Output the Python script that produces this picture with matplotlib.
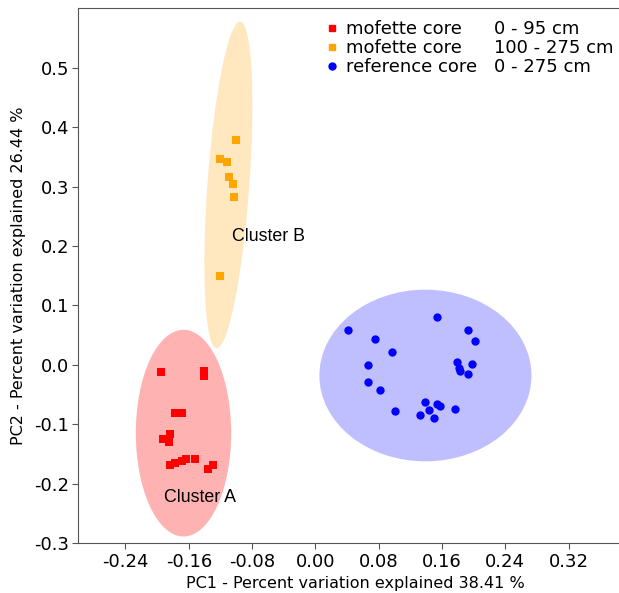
import numpy as np
import matplotlib.pyplot as plt
from matplotlib.patches import Ellipse
from matplotlib.lines import Line2D

# PCA scores
upper_x = [-0.195, -0.141, -0.141, -0.177, -0.168, -0.184, -0.193, -0.185,
           -0.184, -0.178, -0.169, -0.163, -0.152, -0.136, -0.130]
upper_y = [-0.012, -0.010, -0.019, -0.081, -0.081, -0.117, -0.125, -0.130,
           -0.168, -0.166, -0.162, -0.158, -0.159, -0.175, -0.169]

lower_x = [-0.100, -0.120, -0.112, -0.109, -0.104, -0.103, -0.120]
lower_y = [0.378, 0.347, 0.341, 0.316, 0.305, 0.283, 0.150]

ref_x = [0.041, 0.153, 0.193, 0.202, 0.075, 0.097, 0.067, 0.1785, 0.198, 0.182,
         0.183, 0.193, 0.067, 0.082, 0.100, 0.138, 0.144, 0.153, 0.158, 0.176,
         0.132, 0.150]
ref_y = [0.058, 0.081, 0.059, 0.040, 0.043, 0.021, -0.001, 0.005, 0.002, -0.005,
         -0.011, -0.015, -0.029, -0.042, -0.077, -0.063, -0.076, -0.066, -0.070,
         -0.075, -0.085, -0.089]

names = ["mofette core", "mofette core", "reference core"]
depths = ["0 - 95 cm", "100 - 275 cm", "0 - 275 cm"]
colors = ["red", "orange", "blue"]
markers = ["s", "s", "o"]

# cluster ellipses: center x, center y, width, height, angle
ell_a = (-0.1667, -0.115, 0.1205, 0.348, 0)
ell_b = (-0.110, 0.303, 0.551, 0.053, 86.9)
ell_ref = (0.139, -0.018, 0.268, 0.289, 0)

xticks = np.arange(-0.24, 0.33, 0.08)
yticks = np.arange(-0.3, 0.51, 0.1)

fig = plt.figure(figsize=(6.19, 5.93), dpi=100)
ax = fig.add_axes([0.126, 0.0843, 0.895, 0.9015])

for e, c, a in ((ell_a, "red", 0.3), (ell_b, "orange", 0.25), (ell_ref, "blue", 0.25)):
    ax.add_patch(Ellipse((e[0], e[1]), e[2], e[3], angle=e[4],
                         facecolor=c, alpha=a, edgecolor="none", zorder=1))

ax.scatter(upper_x, upper_y, marker="s", s=26, color="red", zorder=3, linewidths=0)
ax.scatter(lower_x, lower_y, marker="s", s=26, color="orange", zorder=3, linewidths=0)
ax.scatter(ref_x, ref_y, marker="o", s=36, color="blue", zorder=3, linewidths=0)

ax.text(-0.106, 0.2155, "Cluster B", fontsize=12.8, family="Liberation Sans",
        va="center", ha="left")
ax.text(-0.191, -0.223, "Cluster A", fontsize=12.8, family="Liberation Sans",
        va="center", ha="left")

ax.set_xlim(-0.30, 0.40)
ax.set_ylim(-0.3, 0.6)
ax.set_xticks(xticks)
ax.set_xticklabels([f"{v:.2f}" for v in xticks])
ax.set_yticks(yticks)
ax.set_yticklabels([f"{v:.1f}" for v in yticks])
ax.tick_params(labelsize=13, length=4, color="#555555")
ax.tick_params(axis="x", pad=3)
ax.tick_params(axis="y", pad=2.4)
ax.spines["right"].set_visible(False)
for s in ax.spines.values():
    s.set_color("#555555")

ax.set_xlabel("PC1 - Percent variation explained 38.41 %", fontsize=11.5, labelpad=4)
ax.set_ylabel("PC2 - Percent variation explained 26.44 %", fontsize=11.5, labelpad=6)

handles = [Line2D([], [], ls="none", marker=m, color=c, markersize=5)
           for m, c in zip(markers, colors)]
handles += [Line2D([], [], ls="none") for _ in depths]
leg = ax.legend(handles, names + depths, ncol=2, fontsize=13, frameon=False,
                loc="upper left", bbox_to_anchor=(325 / 619, 1 - 20 / 593),
                bbox_transform=fig.transFigure, borderpad=0, borderaxespad=0,
                handlelength=0.8, handletextpad=0.35, columnspacing=-0.2,
                labelspacing=0.065)

fig.savefig("out.png", dpi=100)
